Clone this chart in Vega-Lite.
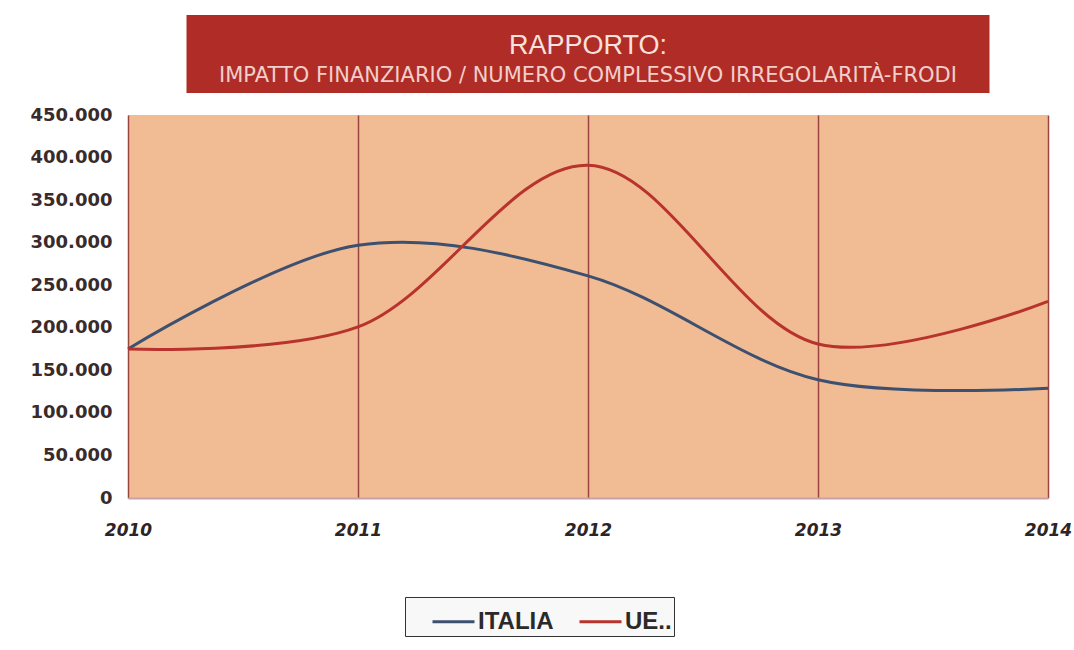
{
  "$schema": "https://vega.github.io/schema/vega-lite/v6.json",
  "background": "#ffffff",
  "padding": {"left": 30, "top": 15, "right": 0, "bottom": 5},
  "center": true,
  "bounds": "flush",
  "spacing": 22,
  "config": {"font": "Liberation Sans"},
  "vconcat": [
    {
      "width": 803,
      "height": 78,
      "view": {"fill": "#b02c26", "stroke": null},
      "data": {"values": [
        {"riga": "titolo", "testo": "RAPPORTO:"},
        {"riga": "sottotitolo", "testo": "IMPATTO FINANZIARIO  / NUMERO COMPLESSIVO IRREGOLARITÀ-FRODI"}
      ]},
      "encoding": {
        "text": {"field": "testo"},
        "y": {"field": "riga", "type": "nominal", "axis": null, "scale": {"type": "point", "padding": 0, "domain": ["titolo", "sottotitolo"], "range": [31, 61]}}
      },
      "layer": [
        {
          "transform": [{"filter": "datum.riga == 'titolo'"}],
          "mark": {"type": "text", "color": "#f6e2df", "align": "center", "baseline": "middle", "font": "Liberation Sans", "fontSize": 27}
        },
        {
          "transform": [{"filter": "datum.riga == 'sottotitolo'"}],
          "mark": {"type": "text", "color": "#f1cfcb", "align": "center", "baseline": "middle", "font": "DejaVu Sans", "fontSize": 21}
        }
      ]
    },
    {
      "width": 920,
      "height": 383,
      "view": {"fill": "#f1bc93", "stroke": null},
      "data": {"values": [
        {"anno": 2010, "serie": "ITALIA", "valore": 175000},
        {"anno": 2011, "serie": "ITALIA", "valore": 297000},
        {"anno": 2012, "serie": "ITALIA", "valore": 261000},
        {"anno": 2013, "serie": "ITALIA", "valore": 139000},
        {"anno": 2014, "serie": "ITALIA", "valore": 129000},
        {"anno": 2010, "serie": "UE", "valore": 175000},
        {"anno": 2011, "serie": "UE", "valore": 201000},
        {"anno": 2012, "serie": "UE", "valore": 391000},
        {"anno": 2013, "serie": "UE", "valore": 181000},
        {"anno": 2014, "serie": "UE", "valore": 231000}
      ]},
      "mark": {"type": "line", "interpolate": "catmull-rom", "strokeWidth": 3},
      "encoding": {
        "x": {
          "field": "anno", "type": "quantitative",
          "scale": {"domain": [2010, 2014], "nice": false, "zero": false},
          "axis": {
            "title": null, "values": [2010, 2011, 2012, 2013, 2014], "format": "d",
            "grid": true, "gridColor": "#9a4442", "gridWidth": 1.5, "gridOpacity": 1,
            "domain": true, "domainColor": "#c9a0a8", "domainWidth": 2,
            "ticks": false, "labelPadding": 24,
            "labelFont": "DejaVu Sans", "labelFontSize": 17, "labelFontWeight": "bold", "labelFontStyle": "italic",
            "labelColor": "#2e2424", "labelFlush": false
          }
        },
        "y": {
          "field": "valore", "type": "quantitative",
          "scale": {"domain": [0, 450000], "nice": false},
          "axis": {
            "title": null, "values": [0, 50000, 100000, 150000, 200000, 250000, 300000, 350000, 400000, 450000],
            "labelExpr": "replace(format(datum.value, ','), ',', '.')",
            "grid": false, "domain": false, "ticks": false, "labelPadding": 16,
            "labelFont": "DejaVu Sans", "labelFontSize": 18, "labelFontWeight": "bold",
            "labelColor": "#3a2a2a"
          }
        },
        "color": {
          "field": "serie", "type": "nominal",
          "scale": {"domain": ["ITALIA", "UE"], "range": ["#3d5070", "#b8332d"]},
          "legend": {
            "title": null, "orient": "none", "legendX": 277, "legendY": 582,
            "direction": "horizontal", "symbolType": "stroke", "symbolSize": 1764, "symbolStrokeWidth": 3,
            "symbolOffset": 24,
            "labelFont": "Liberation Sans", "labelFontSize": 24, "labelFontWeight": "bold", "labelColor": "#2a2a2a",
            "labelExpr": "datum.label == 'UE' ? 'UE..' : datum.label",
            "fillColor": "#f8f8f8", "strokeColor": "#333333", "padding": 2, "columnPadding": 0, "labelOffset": 2
          }
        }
      }
    }
  ]
}
